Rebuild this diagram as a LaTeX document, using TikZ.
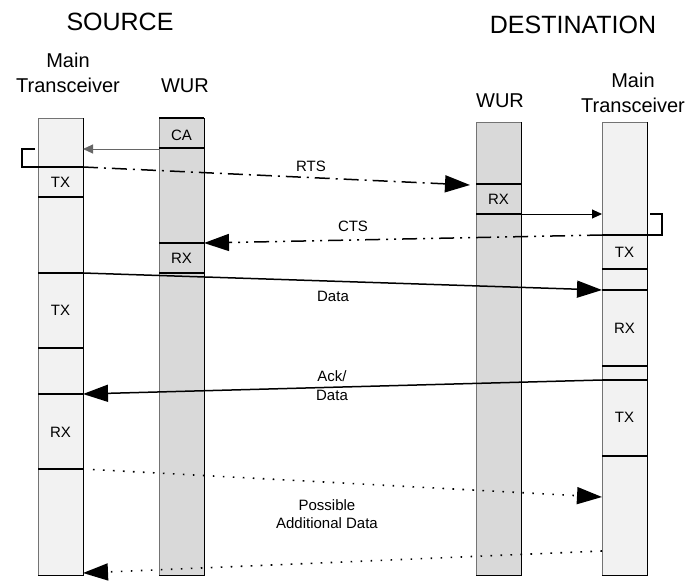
\documentclass[tikz,border=0pt]{standalone}
\usepackage{fontspec}
\setmainfont{Liberation Sans}
\usetikzlibrary{arrows.meta}
\begin{document}
\begin{tikzpicture}[x=1pt,y=-1pt,
  col/.style={draw=black!55,line width=0.9pt,inner sep=0pt,outer sep=0pt,
    anchor=north west,minimum width=45pt},
  maincol/.style={col,fill=black!5},
  wurcol/.style={col,fill=black!15},
  seg/.style={line width=1.3pt},
  lbl/.style={font=\fontsize{15}{19}\selectfont,inner sep=0pt,align=center},
  title/.style={font=\fontsize{25}{30}\selectfont,inner sep=0pt},
  sub/.style={font=\fontsize{20}{25}\selectfont,inner sep=0pt,align=center},
  big/.style={-{Triangle[length=25pt,width=17pt]},line width=1.5pt},
  small/.style={-{Triangle[length=10pt,width=9pt]},line width=0.9pt},
  dashdot/.style={dash pattern=on 15pt off 6pt on 2pt off 6pt},
  dashdotdot/.style={dash pattern=on 15pt off 6pt on 2pt off 6pt on 2pt off 6pt},
  dotline/.style={line width=1.6pt,dash pattern=on 1.6pt off 8.4pt},
  bracket/.style={line width=1.3pt}
]
\useasboundingbox (0,0) rectangle (688,581);

% headings
\node[title] (hsrc) at (120,22) {SOURCE};
\node[title] (hdst) at (573,25) {DESTINATION};
\node[sub] (hsm) at (68,73) {Main\\Transceiver};
\node[sub] (hsw) at (185,86) {WUR};
\node[sub] (hdw) at (500,101) {WUR};
\node[sub] (hdm) at (633,93) {Main\\Transceiver};

% time lines
\node[maincol,minimum height=457pt] (SM) at (38,118) {};
\node[wurcol,minimum height=457pt] (SW) at (159,118) {};
\node[wurcol,minimum height=453pt] (DW) at (476,122) {};
\node[maincol,minimum height=453pt] (DM) at (602,122) {};
\foreach \c in {SM,SW,DW,DM}{
  \draw[line width=0.9pt] (\c.north east) -- (\c.south east) -- (\c.south west);
}
\draw[line width=1.6pt] (SW.north west) -- (SW.north east);

% slot boundaries
\foreach \y in {167,197,273,348,394,469}{
  \draw[seg] (SM.west |- 0,\y) -- (SM.east |- 0,\y);
}
\foreach \y in {148,243,273}{
  \draw[seg] (SW.west |- 0,\y) -- (SW.east |- 0,\y);
}
\foreach \y in {184,214}{
  \draw[seg] (DW.west |- 0,\y) -- (DW.east |- 0,\y);
}
\foreach \y in {235,269,290,366,380,456}{
  \draw[seg] (DM.west |- 0,\y) -- (DM.east |- 0,\y);
}

% slot labels
\node[lbl] (smtx1) at (60.5,182) {TX};
\node[lbl] (smtx2) at (60.5,310) {TX};
\node[lbl] (smrx)  at (60.5,432) {RX};
\node[lbl] (swca)  at (181.5,135) {CA};
\node[lbl] (swrx)  at (181.5,258) {RX};
\node[lbl] (dwrx)  at (498.5,199) {RX};
\node[lbl] (dmtx1) at (624.5,252) {TX};
\node[lbl] (dmrx)  at (624.5,328) {RX};
\node[lbl] (dmtx2) at (624.5,417) {TX};

% brackets
\draw[bracket] (35,149) -- (22,149) -- (22,167) -- (SM.west |- 0,167);
\draw[bracket] (650,214) -- (662,214) -- (662,235) -- (DM.east |- 0,235);

% message end points
\coordinate (caS) at (SW.west |- 0,149);
\coordinate (caE) at (SM.east |- 0,149);
\coordinate (rtsS) at (SM.east |- 0,167);
\coordinate (rtsE) at (470,185);
\coordinate (wkS) at (DW.east |- 0,214);
\coordinate (wkE) at (DM.west |- 0,214);
\coordinate (ctsS) at (DM.west |- 0,235);
\coordinate (ctsE) at (SW.east |- 0,243);
\coordinate (datS) at (SM.east |- 0,273);
\coordinate (datE) at (DM.west |- 0,290);
\coordinate (ackS) at (DM.west |- 0,380);
\coordinate (ackE) at (SM.east |- 0,394);
\coordinate (ad1S) at (SM.east |- 0,469);
\coordinate (ad1E) at (DM.west |- 0,497);
\coordinate (ad2S) at (DM.west |- 0,551);
\coordinate (ad2E) at (SM.east |- 0,573);

% messages
\draw[small,draw=black!60] (caS) -- (caE);
\draw[big,dashdot] (rtsS) -- (rtsE);
\draw[small] (wkS) -- (wkE);
\draw[big,dashdotdot] (ctsS) -- (ctsE);
\draw[big] (datS) -- (datE);
\draw[big] (ackS) -- (ackE);
\draw[big,dotline,shorten <=10pt] (ad1S) -- (ad1E);
\draw[big,dotline] (ad2S) -- (ad2E);

% message labels
\node[lbl] (lrts) at (311,166) {RTS};
\node[lbl] (lcts) at (353,226) {CTS};
\node[lbl] (ldat) at (333,296) {Data};
\node[lbl] (lack) at (332,386) {Ack/\\Data};
\node[lbl,font=\fontsize{15}{18}\selectfont] (ladd) at (327,514) {Possible\\Additional Data};
\end{tikzpicture}
\end{document}
